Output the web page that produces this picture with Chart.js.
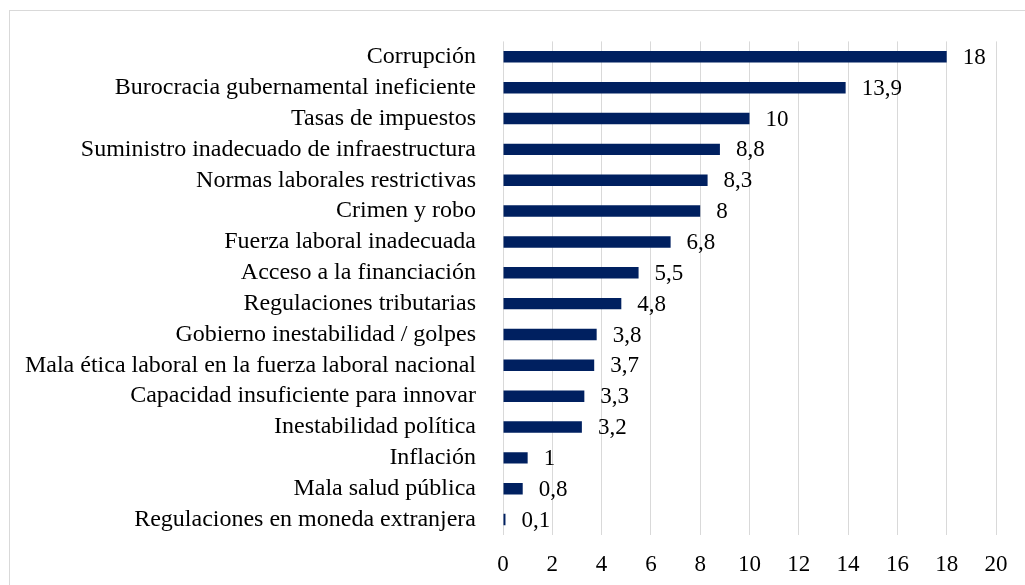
<!DOCTYPE html>
<html lang="es">
<head>
<meta charset="utf-8">
<title>Obstáculos</title>
<script src="https://cdn.jsdelivr.net/npm/chart.js@4.4.1/dist/chart.umd.min.js"></script>
<style>
  html, body { margin: 0; padding: 0; background: #fff; }
  #wrap { position: relative; width: 1025px; height: 585px; overflow: hidden; }
  #marco {
    position: absolute; left: 9px; top: 10px; width: 1100px; height: 700px;
    border-top: 1px solid #d9d9d9; border-left: 1px solid #d9d9d9;
    pointer-events: none;
  }
</style>
</head>
<body>
<div id="wrap">
  <canvas id="grafico" width="1025" height="585"></canvas>
  <div id="marco"></div>
</div>
<script>
// categorías (de arriba hacia abajo) y porcentajes
const categorias = [
  "Corrupción",
  "Burocracia gubernamental ineficiente",
  "Tasas de impuestos",
  "Suministro inadecuado de infraestructura",
  "Normas laborales restrictivas",
  "Crimen y robo",
  "Fuerza laboral inadecuada",
  "Acceso a la financiación",
  "Regulaciones tributarias",
  "Gobierno inestabilidad / golpes",
  "Mala ética laboral en la fuerza laboral nacional",
  "Capacidad insuficiente para innovar",
  "Inestabilidad política",
  "Inflación",
  "Mala salud pública",
  "Regulaciones en moneda extranjera"
];
const valores = [18, 13.9, 10, 8.8, 8.3, 8, 6.8, 5.5, 4.8, 3.8, 3.7, 3.3, 3.2, 1, 0.8, 0.1];
const ticksX = [0, 2, 4, 6, 8, 10, 12, 14, 16, 18, 20];

const fuente = '"Liberation Serif", "Times New Roman", serif';

// etiquetas de valor al final de cada barra (con coma decimal)
const etiquetasBarras = {
  id: "etiquetasBarras",
  afterDatasetsDraw(chart) {
    const ctx = chart.ctx;
    const meta = chart.getDatasetMeta(0);
    ctx.save();
    ctx.font = "23px " + fuente;
    ctx.fillStyle = "#000";
    ctx.textAlign = "left";
    ctx.textBaseline = "middle";
    meta.data.forEach((bar, i) => {
      const txt = String(valores[i]).replace(".", ",");
      ctx.fillText(txt, bar.x + 16, bar.y + 1);
    });
    ctx.restore();
  }
};

new Chart(document.getElementById("grafico"), {
  type: "bar",
  data: {
    labels: categorias,
    datasets: [{
      data: valores,
      backgroundColor: "#002060",
      borderWidth: 0,
      barPercentage: 0.37,
      categoryPercentage: 1
    }]
  },
  options: {
    indexAxis: "y",
    responsive: false,
    animation: false,
    layout: { padding: { top: 39, right: 29, left: 0, bottom: 0 } },
    plugins: {
      legend: { display: false },
      tooltip: { enabled: false }
    },
    scales: {
      x: {
        min: 0,
        max: 20,
        afterBuildTicks: (scale) => { scale.ticks = ticksX.map(v => ({ value: v })); },
        afterFit: (scale) => { scale.height = 50; },
        grid: { color: "#d9d9d9", lineWidth: 1, drawTicks: false },
        border: { display: false },
        ticks: {
          padding: 16,
          color: "#000",
          font: { family: fuente, size: 23 }
        }
      },
      y: {
        afterFit: (scale) => { scale.width = 503; },
        grid: { display: false, drawTicks: false },
        border: { display: false },
        ticks: {
          padding: 27,
          autoSkip: false,
          color: "#000",
          font: { family: fuente, size: 24 }
        }
      }
    }
  },
  plugins: [etiquetasBarras]
});
</script>
</body>
</html>
